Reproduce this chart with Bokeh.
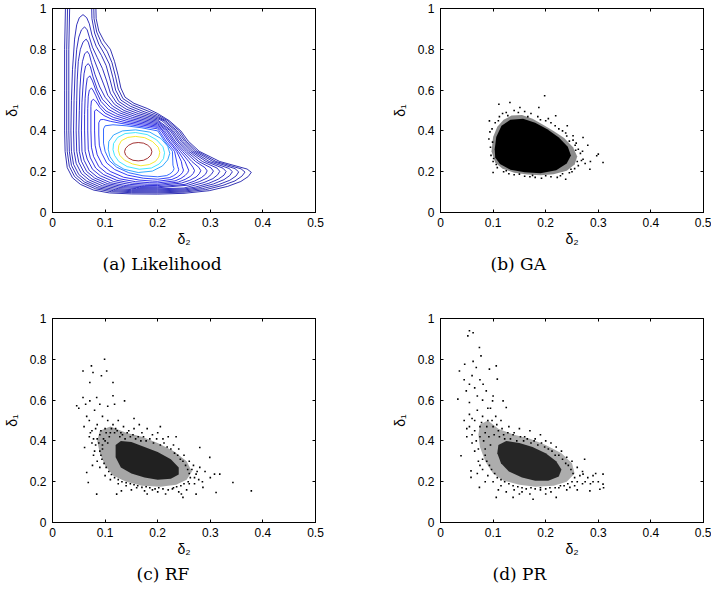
import math
from bokeh.plotting import figure
from bokeh.layouts import column, row
from bokeh.models import Range1d, FixedTicker, LinearAxis, Title, ColumnDataSource
from bokeh.embed import file_html
from bokeh.resources import INLINE

# ---------------- data ----------------
X_TICKS = [0, 0.1, 0.2, 0.3, 0.4, 0.5]
X_TICK_LABELS = ["0", "0.1", "0.2", "0.3", "0.4", "0.5"]
Y_TICKS = [0, 0.2, 0.4, 0.6, 0.8, 1.0]
Y_TICK_LABELS = ["0", "0.2", "0.4", "0.6", "0.8", "1"]
X_LABEL = "δ₂"
Y_LABEL = "δ₁"
CAPTIONS = ["(a)  Likelihood", "(b)  GA", "(c)  RF", "(d)  PR"]

# likelihood contour lines (delta2, delta1), outermost first
C00 = [(0.025,1.05),(0.023,0.8),(0.023,0.6),(0.023,0.4),(0.024,0.3),(0.028,0.22),(0.038,0.17),(0.053,0.138),(0.078,0.11),(0.108,0.096),(0.15,0.091),(0.2,0.09),(0.25,0.094),(0.298,0.107),(0.333,0.128),(0.358,0.152),(0.372,0.176),(0.378,0.197),(0.37,0.213),(0.318,0.25),(0.279,0.3),(0.258,0.35),(0.244,0.4),(0.222,0.45),(0.2,0.485),(0.18,0.51),(0.155,0.535),(0.138,0.565),(0.13,0.61),(0.125,0.67),(0.118,0.74),(0.11,0.8),(0.098,0.84),(0.088,0.89),(0.083,0.95),(0.082,1.05)]
C01 = [(0.029,1.05),(0.027,0.8),(0.027,0.6),(0.027,0.4),(0.028,0.3),(0.032,0.226),(0.042,0.176),(0.057,0.144),(0.082,0.116),(0.112,0.102),(0.15,0.097),(0.2,0.096),(0.25,0.1),(0.291,0.112),(0.324,0.133),(0.347,0.155),(0.36,0.178),(0.366,0.198),(0.3585,0.214),(0.311,0.25),(0.275,0.3),(0.254,0.35),(0.241,0.4),(0.219,0.45),(0.2,0.478),(0.176,0.503),(0.152,0.528),(0.134,0.558),(0.125,0.605),(0.12,0.665),(0.113,0.735),(0.104,0.79),(0.093,0.832),(0.084,0.885),(0.079,0.95),(0.078,1.05)]
C02 = [(0.033,1.05),(0.031,0.8),(0.031,0.6),(0.031,0.4),(0.032,0.3),(0.036,0.231),(0.046,0.181),(0.061,0.149),(0.086,0.121),(0.116,0.107),(0.15,0.102),(0.2,0.101),(0.25,0.105),(0.285,0.117),(0.315,0.136),(0.337,0.158),(0.349,0.179),(0.354,0.199),(0.347,0.215),(0.305,0.25),(0.271,0.3),(0.251,0.35),(0.237,0.4),(0.215,0.45),(0.2,0.471),(0.172,0.496),(0.148,0.521),(0.13,0.551),(0.12,0.6),(0.115,0.66),(0.108,0.728),(0.098,0.78),(0.088,0.825),(0.08,0.88),(0.075,0.95),(0.074,1.05)]
C03 = [(0.058,0.97),(0.051,0.955),(0.046,0.92),(0.042,0.85),(0.038,0.7),(0.036,0.55),(0.035,0.4),(0.036,0.3),(0.04,0.236),(0.05,0.186),(0.065,0.154),(0.09,0.126),(0.12,0.112),(0.15,0.107),(0.2,0.106),(0.25,0.11),(0.278,0.121),(0.306,0.14),(0.326,0.161),(0.337,0.181),(0.342,0.2),(0.3356,0.216),(0.298,0.25),(0.267,0.3),(0.247,0.35),(0.234,0.4),(0.212,0.45),(0.2,0.465),(0.168,0.49),(0.144,0.514),(0.126,0.544),(0.115,0.595),(0.109,0.655),(0.102,0.72),(0.093,0.77),(0.083,0.815),(0.075,0.87),(0.07,0.925),(0.065,0.955),(0.058,0.97)]
C04 = [(0.061,0.91),(0.055,0.895),(0.05,0.86),(0.046,0.8),(0.043,0.7),(0.041,0.55),(0.04,0.4),(0.041,0.3),(0.045,0.241),(0.055,0.191),(0.07,0.159),(0.095,0.131),(0.125,0.117),(0.15,0.112),(0.2,0.111),(0.25,0.115),(0.272,0.125),(0.297,0.143),(0.315,0.163),(0.326,0.183),(0.33,0.201),(0.3242,0.217),(0.292,0.25),(0.263,0.3),(0.244,0.35),(0.23,0.4),(0.208,0.45),(0.2,0.459),(0.164,0.484),(0.14,0.507),(0.122,0.537),(0.11,0.585),(0.103,0.645),(0.095,0.705),(0.085,0.76),(0.076,0.81),(0.07,0.86),(0.066,0.895),(0.061,0.91)]
C05 = [(0.064,0.85),(0.058,0.835),(0.053,0.8),(0.049,0.74),(0.047,0.65),(0.046,0.55),(0.045,0.4),(0.046,0.3),(0.05,0.246),(0.06,0.196),(0.075,0.164),(0.1,0.136),(0.13,0.122),(0.16,0.117),(0.2,0.116),(0.25,0.12),(0.265,0.13),(0.288,0.147),(0.305,0.166),(0.314,0.185),(0.318,0.202),(0.3127,0.218),(0.285,0.25),(0.259,0.3),(0.24,0.35),(0.227,0.4),(0.2,0.453),(0.16,0.478),(0.136,0.5),(0.118,0.53),(0.105,0.575),(0.097,0.63),(0.088,0.69),(0.079,0.75),(0.072,0.8),(0.068,0.835),(0.064,0.85)]
C06 = [(0.066,0.79),(0.061,0.777),(0.057,0.74),(0.054,0.68),(0.052,0.6),(0.051,0.5),(0.05,0.4),(0.051,0.3),(0.055,0.251),(0.065,0.201),(0.08,0.169),(0.105,0.141),(0.135,0.127),(0.165,0.122),(0.2,0.121),(0.258,0.134),(0.279,0.151),(0.294,0.169),(0.302,0.187),(0.306,0.203),(0.3012,0.219),(0.278,0.25),(0.255,0.3),(0.237,0.35),(0.224,0.4),(0.2,0.447),(0.156,0.472),(0.132,0.494),(0.114,0.522),(0.1,0.565),(0.09,0.615),(0.081,0.675),(0.074,0.735),(0.07,0.775),(0.066,0.79)]
C07 = [(0.068,0.73),(0.063,0.718),(0.06,0.68),(0.058,0.62),(0.056,0.54),(0.055,0.4),(0.056,0.3),(0.06,0.256),(0.07,0.206),(0.085,0.174),(0.11,0.146),(0.14,0.132),(0.17,0.127),(0.2,0.126),(0.252,0.138),(0.27,0.154),(0.283,0.171),(0.291,0.188),(0.294,0.204),(0.2898,0.22),(0.272,0.25),(0.251,0.3),(0.233,0.35),(0.22,0.4),(0.2,0.441),(0.152,0.466),(0.128,0.488),(0.11,0.515),(0.095,0.555),(0.085,0.605),(0.077,0.665),(0.072,0.715),(0.068,0.73)]
C08 = [(0.071,0.67),(0.066,0.657),(0.064,0.62),(0.062,0.56),(0.061,0.48),(0.061,0.4),(0.062,0.3),(0.066,0.262),(0.076,0.212),(0.091,0.18),(0.116,0.152),(0.146,0.138),(0.175,0.133),(0.2,0.132),(0.245,0.144),(0.261,0.158),(0.273,0.174),(0.279,0.19),(0.282,0.205),(0.2783,0.221),(0.265,0.25),(0.247,0.3),(0.23,0.35),(0.217,0.4),(0.2,0.435),(0.148,0.46),(0.124,0.481),(0.106,0.506),(0.092,0.545),(0.083,0.595),(0.076,0.645),(0.071,0.67)]
C09 = [(0.074,0.61),(0.07,0.6),(0.068,0.57),(0.067,0.51),(0.067,0.4),(0.068,0.31),(0.072,0.268),(0.082,0.218),(0.097,0.186),(0.122,0.158),(0.152,0.144),(0.18,0.139),(0.2,0.138),(0.239,0.149),(0.252,0.162),(0.262,0.177),(0.268,0.192),(0.27,0.206),(0.2669,0.222),(0.259,0.25),(0.243,0.3),(0.227,0.35),(0.213,0.4),(0.2,0.429),(0.144,0.454),(0.12,0.474),(0.102,0.497),(0.09,0.53),(0.082,0.575),(0.077,0.6),(0.074,0.61)]
C10 = [(0.078,0.555),(0.074,0.547),(0.073,0.52),(0.073,0.4),(0.074,0.32),(0.078,0.275),(0.088,0.225),(0.103,0.193),(0.128,0.165),(0.158,0.151),(0.185,0.146),(0.2,0.145),(0.233,0.155),(0.244,0.167),(0.252,0.181),(0.257,0.195),(0.259,0.207),(0.2564,0.223),(0.252,0.25),(0.239,0.3),(0.223,0.35),(0.21,0.4),(0.2,0.423),(0.14,0.448),(0.116,0.466),(0.1,0.487),(0.09,0.515),(0.083,0.542),(0.078,0.555)]
C11 = [(0.083,0.505),(0.08,0.497),(0.08,0.4),(0.081,0.33),(0.085,0.283),(0.095,0.233),(0.11,0.201),(0.135,0.173),(0.165,0.159),(0.19,0.154),(0.2,0.153),(0.227,0.162),(0.237,0.173),(0.2435,0.185),(0.2475,0.197),(0.249,0.208),(0.2468,0.224),(0.245,0.25),(0.236,0.3),(0.22,0.35),(0.207,0.4),(0.2,0.417),(0.136,0.442),(0.113,0.457),(0.098,0.475),(0.088,0.495),(0.083,0.505)]
C12 = [(0.091,0.455),(0.088,0.44),(0.088,0.38),(0.089,0.33),(0.093,0.293),(0.103,0.243),(0.118,0.211),(0.143,0.183),(0.173,0.168),(0.2,0.163),(0.222,0.1705),(0.23,0.18),(0.2355,0.19),(0.2389,0.201),(0.24,0.21),(0.238,0.226),(0.232,0.3),(0.216,0.35),(0.203,0.4),(0.2,0.41),(0.132,0.436),(0.11,0.447),(0.097,0.456),(0.091,0.455)]
C13 = [(0.1,0.425),(0.097,0.41),(0.097,0.34),(0.1,0.3),(0.108,0.255),(0.122,0.222),(0.145,0.195),(0.172,0.18),(0.2,0.175),(0.217,0.181),(0.223,0.189),(0.2275,0.198),(0.23,0.207),(0.231,0.215),(0.229,0.232),(0.228,0.3),(0.213,0.35),(0.2,0.4),(0.17,0.415),(0.14,0.425),(0.115,0.43),(0.1,0.425)]
C14 = [(0.223,0.29),(0.219,0.325),(0.206,0.363),(0.185,0.394),(0.158,0.405),(0.133,0.4),(0.116,0.38),(0.107,0.348),(0.106,0.31),(0.109,0.275),(0.118,0.24),(0.136,0.212),(0.163,0.196),(0.19,0.203),(0.209,0.228),(0.219,0.258),(0.223,0.29)]
C15 = [(0.213,0.293),(0.21,0.322),(0.198,0.356),(0.18,0.382),(0.158,0.392),(0.138,0.387),(0.124,0.368),(0.116,0.338),(0.115,0.308),(0.118,0.28),(0.126,0.25),(0.142,0.225),(0.165,0.212),(0.188,0.218),(0.203,0.238),(0.211,0.264),(0.213,0.293)]
C16 = [(0.204,0.295),(0.201,0.32),(0.19,0.348),(0.175,0.367),(0.158,0.373),(0.143,0.368),(0.131,0.352),(0.126,0.328),(0.125,0.305),(0.128,0.28),(0.137,0.256),(0.152,0.238),(0.168,0.229),(0.184,0.235),(0.196,0.251),(0.202,0.272),(0.204,0.295)]
C17 = [(0.189,0.298),(0.187,0.315),(0.181,0.33),(0.173,0.34),(0.163,0.343),(0.153,0.34),(0.145,0.33),(0.139,0.315),(0.137,0.298),(0.139,0.281),(0.145,0.266),(0.153,0.256),(0.163,0.253),(0.173,0.256),(0.181,0.266),(0.187,0.281),(0.189,0.298)]
CONTOURS = [C00, C01, C02, C03, C04, C05, C06, C07, C08, C09, C10, C11, C12, C13, C14, C15, C16, C17]

# GA samples: dense core outlines and scattered samples
GA_HALO = [(0.097,0.30),(0.1,0.37),(0.108,0.42),(0.12,0.455),(0.135,0.475),(0.155,0.478),(0.175,0.46),(0.195,0.43),(0.215,0.4),(0.235,0.365),(0.252,0.32),(0.26,0.275),(0.255,0.235),(0.24,0.205),(0.215,0.188),(0.19,0.182),(0.165,0.186),(0.14,0.195),(0.118,0.215),(0.104,0.245)]
GA_CORE = [(0.103,0.31),(0.106,0.37),(0.116,0.425),(0.133,0.455),(0.157,0.46),(0.18,0.44),(0.203,0.408),(0.225,0.368),(0.242,0.322),(0.248,0.28),(0.24,0.24),(0.22,0.207),(0.19,0.193),(0.16,0.197),(0.133,0.21),(0.113,0.238),(0.104,0.27)]
GA_PTS = [(0.198,0.572),(0.187,0.515),(0.219,0.474),(0.132,0.539),(0.111,0.531),(0.151,0.515),(0.241,0.425),(0.252,0.376),(0.271,0.368),(0.284,0.212),(0.297,0.278),(0.309,0.245),(0.3,0.286),(0.271,0.261),(0.1,0.196),(0.192,0.168),(0.238,0.163),(0.093,0.449),
          (0.095,0.32),(0.092,0.36),(0.098,0.41),(0.104,0.44),(0.112,0.47),(0.125,0.49),(0.14,0.5),(0.16,0.495),(0.172,0.485),(0.185,0.47),(0.2,0.45),(0.21,0.44),(0.225,0.41),(0.238,0.39),(0.245,0.35),(0.258,0.34),(0.262,0.31),(0.266,0.29),(0.268,0.255),(0.262,0.23),(0.255,0.215),(0.245,0.195),(0.228,0.18),(0.21,0.175),(0.18,0.172),(0.16,0.178),(0.14,0.185),(0.12,0.2),(0.108,0.22),(0.1,0.25),(0.096,0.28),(0.094,0.395),(0.118,0.485),(0.148,0.49),(0.205,0.46),(0.232,0.4),(0.256,0.33),(0.27,0.3),(0.275,0.24),(0.25,0.2),(0.222,0.172),(0.17,0.175),(0.13,0.19),
          (0.099,0.345),(0.101,0.265),(0.11,0.45),(0.128,0.475),(0.166,0.47),(0.19,0.455),(0.218,0.425),(0.24,0.375),(0.252,0.355),(0.257,0.305),(0.26,0.25),(0.248,0.212),(0.232,0.19),(0.2,0.18),(0.175,0.182),(0.15,0.188),(0.125,0.205),(0.106,0.235),(0.28,0.33),(0.285,0.25)]

# RF samples
RF_MID = [(0.09,0.45),(0.11,0.47),(0.14,0.44),(0.17,0.42),(0.2,0.39),(0.23,0.35),(0.255,0.3),(0.265,0.25),(0.255,0.21),(0.235,0.185),(0.205,0.175),(0.17,0.18),(0.14,0.2),(0.115,0.23),(0.1,0.28),(0.09,0.34),(0.085,0.4)]
RF_CORE = [(0.12,0.38),(0.13,0.4),(0.15,0.395),(0.175,0.37),(0.2,0.345),(0.225,0.31),(0.24,0.27),(0.24,0.235),(0.225,0.215),(0.2,0.21),(0.175,0.22),(0.15,0.24),(0.13,0.27),(0.12,0.32)]
RF_PTS = [(0.099,0.80),(0.058,0.743),(0.074,0.768),(0.077,0.735),(0.103,0.743),(0.093,0.719),(0.115,0.686),(0.071,0.686),(0.046,0.572),(0.058,0.613),(0.071,0.596),(0.084,0.613),(0.115,0.621),(0.118,0.58),(0.137,0.596),(0.061,0.368),(0.065,0.245),(0.068,0.196),(0.084,0.139),(0.122,0.139),(0.131,0.155),(0.273,0.237),(0.28,0.368),(0.286,0.172),(0.299,0.319),(0.308,0.237),(0.311,0.147),(0.318,0.237),(0.343,0.196),(0.378,0.155),(0.248,0.123),(0.273,0.139),
          (0.06,0.47),(0.065,0.52),(0.07,0.5),(0.075,0.45),(0.08,0.55),(0.085,0.48),(0.09,0.43),(0.095,0.52),(0.1,0.46),(0.105,0.5),(0.11,0.44),(0.115,0.48),(0.12,0.46),(0.125,0.5),(0.13,0.44),(0.135,0.47),(0.145,0.45),(0.155,0.46),(0.165,0.48),(0.17,0.44),(0.18,0.46),(0.19,0.43),(0.2,0.44),(0.21,0.41),(0.22,0.42),(0.23,0.38),(0.24,0.36),(0.25,0.33),(0.26,0.3),(0.265,0.26),(0.27,0.22),(0.26,0.19),(0.255,0.16),(0.24,0.15),(0.23,0.17),(0.215,0.14),(0.2,0.15),(0.19,0.16),(0.175,0.155),(0.16,0.17),(0.15,0.16),(0.14,0.18),(0.125,0.19),(0.11,0.21),(0.1,0.23),(0.09,0.27),(0.085,0.3),(0.08,0.35),(0.075,0.39),(0.07,0.42),(0.095,0.38),(0.085,0.41),(0.105,0.39),(0.28,0.27),(0.29,0.25),(0.3,0.22),(0.285,0.2),(0.27,0.19),(0.05,0.56),(0.063,0.58),(0.09,0.58),(0.105,0.57),(0.155,0.51),(0.205,0.47),(0.235,0.42),
          (0.072,0.44),(0.078,0.41),(0.082,0.46),(0.088,0.39),(0.092,0.45),(0.097,0.41),(0.102,0.44),(0.108,0.42),(0.112,0.46),(0.118,0.44),(0.123,0.45),(0.128,0.42),(0.133,0.43),(0.138,0.41),(0.142,0.44),(0.148,0.42),(0.153,0.43),(0.158,0.41),(0.163,0.42),(0.168,0.4),(0.173,0.42),(0.178,0.4),(0.185,0.41),(0.192,0.39),(0.198,0.41),(0.205,0.38),(0.212,0.39),(0.218,0.37),(0.225,0.36),(0.232,0.34),(0.238,0.33),(0.243,0.31),(0.248,0.3),(0.253,0.28),(0.257,0.26),(0.26,0.24),(0.262,0.22),(0.258,0.2),(0.25,0.19),(0.244,0.18),(0.236,0.175),(0.228,0.165),(0.22,0.16),(0.21,0.165),(0.202,0.17),(0.195,0.165),(0.185,0.17),(0.178,0.175),(0.17,0.172),(0.162,0.18),(0.155,0.185),(0.148,0.19),(0.14,0.195),(0.132,0.2),(0.125,0.21),(0.118,0.22),(0.112,0.235),(0.107,0.25),(0.102,0.27),(0.098,0.29),(0.094,0.31),(0.092,0.33),(0.09,0.35),(0.095,0.36),(0.1,0.4),(0.082,0.38),(0.078,0.33),(0.076,0.28),(0.275,0.25),(0.268,0.28),(0.278,0.21),(0.245,0.14),(0.18,0.14)]

# PR samples
PR_MID = [(0.075,0.48),(0.09,0.5),(0.11,0.46),(0.14,0.43),(0.17,0.41),(0.2,0.38),(0.23,0.34),(0.25,0.29),(0.255,0.24),(0.24,0.2),(0.215,0.18),(0.18,0.175),(0.15,0.185),(0.12,0.205),(0.1,0.24),(0.085,0.3),(0.075,0.37),(0.072,0.43)]
PR_CORE = [(0.11,0.38),(0.125,0.4),(0.15,0.39),(0.175,0.37),(0.2,0.34),(0.22,0.3),(0.23,0.26),(0.225,0.225),(0.205,0.205),(0.18,0.205),(0.155,0.22),(0.13,0.25),(0.115,0.29),(0.108,0.34)]
PR_PTS = [(0.055,0.94),(0.062,0.93),(0.052,0.915),(0.074,0.858),(0.077,0.817),(0.062,0.79),(0.068,0.76),(0.036,0.743),(0.046,0.776),(0.093,0.752),(0.106,0.768),(0.108,0.703),(0.081,0.678),(0.087,0.645),(0.055,0.678),(0.049,0.645),(0.033,0.605),(0.055,0.588),(0.099,0.596),(0.119,0.596),(0.125,0.564),(0.039,0.327),(0.058,0.253),(0.058,0.221),(0.074,0.172),(0.106,0.123),(0.138,0.123),(0.176,0.114),(0.22,0.123),(0.246,0.172),(0.271,0.237),(0.274,0.31),(0.284,0.155),(0.309,0.237),(0.309,0.188),(0.303,0.163),
          (0.045,0.5),(0.05,0.46),(0.055,0.53),(0.06,0.43),(0.065,0.5),(0.07,0.55),(0.075,0.47),(0.08,0.52),(0.085,0.44),(0.09,0.5),(0.095,0.56),(0.1,0.47),(0.105,0.52),(0.11,0.45),(0.115,0.5),(0.12,0.43),(0.13,0.47),(0.14,0.44),(0.15,0.46),(0.16,0.42),(0.17,0.45),(0.18,0.41),(0.19,0.43),(0.2,0.4),(0.21,0.39),(0.22,0.37),(0.23,0.35),(0.24,0.32),(0.25,0.3),(0.26,0.27),(0.27,0.25),(0.28,0.22),(0.29,0.2),(0.27,0.19),(0.255,0.18),(0.24,0.16),(0.225,0.17),(0.21,0.15),(0.19,0.16),(0.17,0.14),(0.155,0.15),(0.14,0.16),(0.125,0.15),(0.115,0.18),(0.1,0.2),(0.09,0.23),(0.08,0.26),(0.072,0.3),(0.065,0.35),(0.06,0.39),(0.07,0.62),(0.08,0.6),(0.09,0.56),(0.1,0.62),(0.065,0.66),(0.075,0.7),(0.06,0.72),(0.045,0.7),(0.3,0.2),(0.31,0.17),(0.295,0.24),(0.26,0.2),
          (0.05,0.42),(0.055,0.47),(0.06,0.51),(0.065,0.45),(0.068,0.4),(0.072,0.36),(0.075,0.42),(0.078,0.49),(0.082,0.4),(0.085,0.36),(0.088,0.47),(0.092,0.42),(0.095,0.38),(0.098,0.5),(0.102,0.43),(0.107,0.48),(0.112,0.42),(0.117,0.46),(0.122,0.41),(0.128,0.44),(0.133,0.41),(0.138,0.43),(0.145,0.4),(0.152,0.42),(0.158,0.4),(0.165,0.41),(0.172,0.39),(0.178,0.4),(0.185,0.38),(0.192,0.39),(0.198,0.37),(0.205,0.36),(0.212,0.35),(0.218,0.33),(0.225,0.33),(0.232,0.31),(0.238,0.29),(0.243,0.28),(0.248,0.26),(0.252,0.24),(0.255,0.22),(0.25,0.2),(0.242,0.19),(0.235,0.18),(0.228,0.18),(0.218,0.17),(0.208,0.17),(0.2,0.165),(0.19,0.17),(0.18,0.165),(0.172,0.17),(0.163,0.165),(0.155,0.17),(0.147,0.175),(0.138,0.18),(0.13,0.19),(0.122,0.2),(0.115,0.21),(0.108,0.22),(0.103,0.24),(0.097,0.26),(0.093,0.28),(0.088,0.3),(0.085,0.33),(0.08,0.31),(0.075,0.28),(0.265,0.23),(0.275,0.2),(0.285,0.19),(0.29,0.23),(0.26,0.16),(0.2,0.14),(0.15,0.14),(0.11,0.16),(0.085,0.2),(0.07,0.24)]

# ---------------- styling ----------------
CONTOUR_COLORS = ["#0000a0", "#0000a4", "#0000a8", "#0000ac", "#0000b0", "#0000b6",
                  "#0000bc", "#0000c4", "#0000cc", "#0000d6", "#0000e0", "#0000ea",
                  "#0010f8", "#0044ff", "#0090ff", "#10e0ff", "#f2e600", "#8c0000"]
AXIS_FONT = "Liberation Sans"
CAP_FONT = "DejaVu Serif"
CAP_OFFSETS = [50, 50, 84, 52]


def mirror_axis(ticks):
    return LinearAxis(ticker=FixedTicker(ticks=ticks), major_tick_in=3, major_tick_out=0,
                      minor_tick_line_color=None, major_label_text_font_size="1px",
                      major_label_text_color=None, major_label_standoff=0,
                      axis_line_color="black", major_tick_line_color="black")


def make_panel(bl, br, bt, bb, caption, cap_offset):
    p = figure(frame_width=263, frame_height=204, x_range=Range1d(0, 0.5), y_range=Range1d(0, 1),
               output_backend="svg", toolbar_location=None,
               min_border_left=bl, min_border_right=br, min_border_top=bt, min_border_bottom=bb,
               background_fill_color="white", border_fill_color="white",
               outline_line_color="black", outline_line_width=1)
    p.xgrid.visible = False
    p.ygrid.visible = False
    for ax, ticks, labels in ((p.xaxis[0], X_TICKS, X_TICK_LABELS), (p.yaxis[0], Y_TICKS, Y_TICK_LABELS)):
        ax.ticker = FixedTicker(ticks=ticks)
        ax.major_label_overrides = dict(zip(ticks, labels))
        ax.major_tick_in = 3
        ax.major_tick_out = 0
        ax.minor_tick_line_color = None
        ax.axis_line_color = "black"
        ax.major_tick_line_color = "black"
        ax.major_label_text_font = AXIS_FONT
        ax.major_label_text_font_size = "12px"
        ax.major_label_text_color = "black"
        ax.axis_label_text_font = AXIS_FONT
        ax.axis_label_text_font_size = "14px"
        ax.axis_label_text_font_style = "normal"
        ax.axis_label_text_color = "black"
    p.xaxis[0].axis_label = X_LABEL
    p.yaxis[0].axis_label = Y_LABEL
    p.xaxis[0].major_label_standoff = 5
    p.yaxis[0].major_label_standoff = 6
    p.xaxis[0].axis_label_standoff = 1
    p.yaxis[0].axis_label_standoff = 7
    p.add_layout(mirror_axis(X_TICKS), "above")
    p.add_layout(mirror_axis(Y_TICKS), "right")
    p.add_layout(Title(text=caption, align="left", offset=cap_offset, standoff=5,
                       text_font=CAP_FONT, text_font_size="17px", text_font_style="normal",
                       text_color="black"), "below")
    return p


def add_samples(p, mid, core, pts, mid_alpha, core_alpha):
    p.patch([q[0] for q in mid], [q[1] for q in mid], fill_color="black", fill_alpha=mid_alpha, line_color=None)
    p.patch([q[0] for q in core], [q[1] for q in core], fill_color="black", fill_alpha=core_alpha, line_color=None)
    p.scatter([q[0] for q in pts], [q[1] for q in pts], marker="square", size=1.6,
              fill_color="black", line_color=None)


pa = make_panel(48, 39, 8, 94, CAPTIONS[0], CAP_OFFSETS[0])
pb = make_panel(86, 8, 8, 94, CAPTIONS[1], CAP_OFFSETS[1])
pc = make_panel(48, 39, 12, 72, CAPTIONS[2], CAP_OFFSETS[2])
pd = make_panel(86, 8, 12, 72, CAPTIONS[3], CAP_OFFSETS[3])

src = ColumnDataSource(dict(xs=[[q[0] for q in c] for c in CONTOURS],
                            ys=[[q[1] for q in c] for c in CONTOURS],
                            color=CONTOUR_COLORS))
pa.multi_line(xs="xs", ys="ys", line_color="color", line_width=0.8, source=src)

add_samples(pb, GA_HALO, GA_CORE, GA_PTS, 0.45, 1.0)
add_samples(pc, RF_MID, RF_CORE, RF_PTS, 0.35, 0.8)
add_samples(pd, PR_MID, PR_CORE, PR_PTS, 0.32, 0.78)

layout = column(row(pa, pb), row(pc, pd), styles={"margin-bottom": "-10px"})

open("out.html", "w").write(file_html(layout, INLINE))
